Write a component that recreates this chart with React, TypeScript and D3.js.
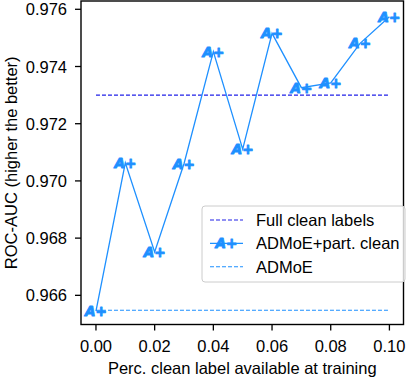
import React from "react";
import * as d3 from "d3";

const fractions = [0.0, 0.01, 0.02, 0.03, 0.04, 0.05, 0.06, 0.07, 0.08, 0.09, 0.1];
const partClean = [0.96545, 0.97063, 0.96752, 0.97060, 0.97452, 0.97111, 0.97516, 0.97326, 0.97343, 0.97481, 0.97574];
const fullClean = 0.97300;
const admoe = 0.96548;
const xTicks = [0.0, 0.02, 0.04, 0.06, 0.08, 0.1];
const yTicks = [0.966, 0.968, 0.970, 0.972, 0.974, 0.976];
const legendLabels = ["Full clean labels", "ADMoE+part. clean", "ADMoE"];

const W = 407, H = 380;
const L = 81, R = 403.5, T = 1, B = 324.5;
const FONT = "'Liberation Sans', Arial, Helvetica, sans-serif";
const FS = 16.5;
const DODGER = "#1e90ff";
const BLUE = "#2020e8";

function Marker({ x, y }: { x: number; y: number }) {
  return (
    <text
      x={x}
      y={y + 5}
      textAnchor="middle"
      fontFamily="'DejaVu Sans', sans-serif"
      fontWeight="bold"
      fontSize={13.5}
      fill={DODGER}
      stroke={DODGER}
      strokeWidth={1}
      strokeLinejoin="round"
    >
      <tspan fontStyle="italic">A</tspan>
      <tspan>+</tspan>
    </text>
  );
}

export default function App() {
  const x = d3.scaleLinear().domain([-0.0051, 0.1048]).range([L, R]);
  const y = d3.scaleLinear().domain([0.96498, 0.97629]).range([B, T]);
  const line = d3
    .line<number>()
    .x((_, i) => x(fractions[i]))
    .y((d) => y(d));

  const x0 = x(fractions[0]);
  const x1 = x(fractions[fractions.length - 1]);

  const lgX = 202, lgY = 206, lgW = 203, lgH = 76;
  const rows = [220, 243.3, 266.7];

  return (
    <svg
      width={W}
      height={H}
      style={{ position: "absolute", left: 0, top: 0, background: "#fff" }}
    >
      <line x1={x0} x2={x1} y1={y(fullClean)} y2={y(fullClean)} stroke={BLUE} strokeWidth={1.1} strokeDasharray="4,2" />
      <line x1={x0} x2={x1} y1={y(admoe)} y2={y(admoe)} stroke={DODGER} strokeWidth={1.1} strokeDasharray="4,2" />
      <path d={line(partClean) || ""} fill="none" stroke={DODGER} strokeWidth={1.3} />
      {partClean.map((v, i) => (
        <Marker key={i} x={x(fractions[i])} y={y(v)} />
      ))}

      <rect x={L} y={T} width={R - L} height={B - T} fill="none" stroke="#000" strokeWidth={1.4} />

      {xTicks.map((t) => (
        <g key={t}>
          <line x1={x(t)} x2={x(t)} y1={B} y2={B + 6} stroke="#000" strokeWidth={1.3} />
          <text x={x(t)} y={352} textAnchor="middle" fontFamily={FONT} fontSize={FS} fill="#000">
            {t.toFixed(2)}
          </text>
        </g>
      ))}
      {yTicks.map((t) => (
        <g key={t}>
          <line x1={L - 6} x2={L} y1={y(t)} y2={y(t)} stroke="#000" strokeWidth={1.3} />
          <text x={67} y={y(t) + 6} textAnchor="end" fontFamily={FONT} fontSize={FS} fill="#000">
            {t.toFixed(3)}
          </text>
        </g>
      ))}

      <text x={(L + R) / 2} y={374} textAnchor="middle" fontFamily={FONT} fontSize={FS} fill="#000">
        Perc. clean label available at training
      </text>
      <text
        transform={`translate(17,${(T + B) / 2}) rotate(-90)`}
        textAnchor="middle"
        fontFamily={FONT}
        fontSize={FS}
        fill="#000"
      >
        ROC-AUC (higher the better)
      </text>

      <rect x={lgX} y={lgY} width={lgW} height={lgH} rx={3} ry={3} fill="#fff" fillOpacity={0.8} stroke="#cccccc" strokeWidth={1} />
      <line x1={210} x2={243} y1={rows[0]} y2={rows[0]} stroke={BLUE} strokeWidth={1.1} strokeDasharray="4,2" />
      <line x1={210} x2={243} y1={rows[1]} y2={rows[1]} stroke={DODGER} strokeWidth={1.3} />
      <Marker x={226.5} y={rows[1]} />
      <line x1={210} x2={243} y1={rows[2]} y2={rows[2]} stroke={DODGER} strokeWidth={1.1} strokeDasharray="4,2" />
      {legendLabels.map((lbl, i) => (
        <text key={lbl} x={256} y={rows[i] + 6} fontFamily={FONT} fontSize={FS} fill="#000">
          {lbl}
        </text>
      ))}
    </svg>
  );
}
